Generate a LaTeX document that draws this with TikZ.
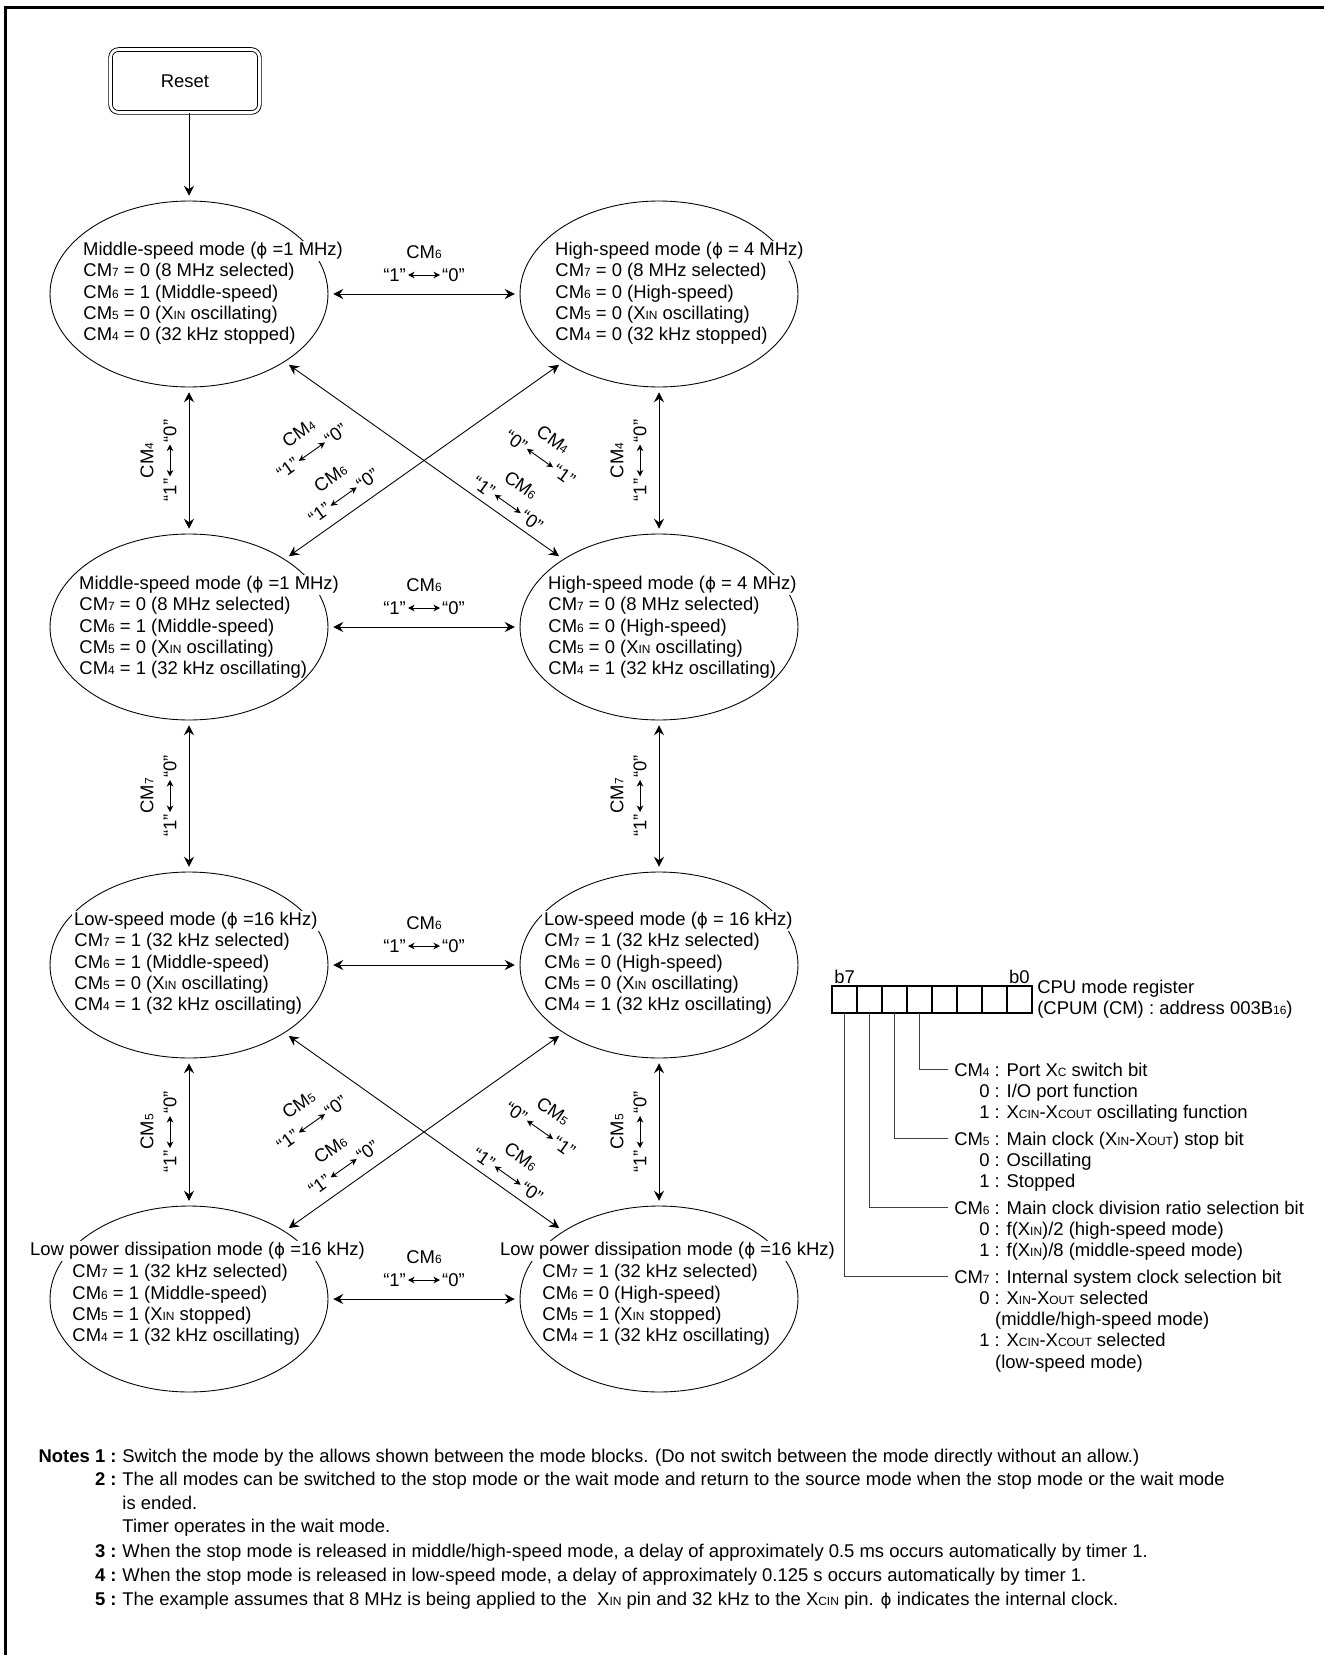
\documentclass[tikz,border=0pt]{standalone}
\usepackage{fontspec}
\setmainfont{Liberation Sans}
\newfontfamily\phifont{DejaVu Sans}
\usetikzlibrary{
positioning,
arrows.meta,
shapes.geometric,
calc
}
\newcommand\lowtxt[1]{{\fontsize{6.8}{8}\selectfont #1}}
\newcommand\phisym{{\phifont\fontsize{9.5}{12}\selectfont ϕ}}
\tikzset{
modeell/.style={
draw,
ellipse,
minimum width=5.56cm,
minimum height=3.72cm,
outer sep=3pt
},
modehead/.style={
anchor=west,
fill=white,
inner sep=1pt
},
modebody/.style={
anchor=west,
align=left,
inner sep=0pt
},
resetbox/.style={
draw,
double,
double distance=0.055cm,
rounded corners=0.16cm,
minimum width=2.98cm,
minimum height=1.26cm
},
arrow/.style={
-{Stealth[length=2mm,width=2mm,inset=0.7mm]}
},
twoway/.style={
{Stealth[length=2mm,width=2mm,inset=0.7mm]}-{Stealth[length=2mm,width=2mm,inset=0.7mm]}
},
smallway/.style={
{Stealth[length=1.3mm,width=1.3mm,inset=0.4mm]}-{Stealth[length=1.3mm,width=1.3mm,inset=0.4mm]}
},
cmlab/.style={inner sep=1pt},
qlab/.style={inner sep=1pt},
pics/swlab/.style n args={4}{code={
\node[cmlab] (-cm) at (0,#4) {CM\lowtxt{#1}};
\node[qlab, anchor=east] (-a) at (-16,{#4+23}) {“#2”};
\node[qlab, anchor=west] (-b) at (16,{#4+23}) {“#3”};
\draw[smallway] (-a) -- (-b);
}},
cell/.style={
draw,
line width=0.6pt,
minimum width=0.5cm,
minimum height=0.54cm,
inner sep=0pt,
outer sep=0pt
},
lead/.style={draw=black!75},
regtxt/.style={anchor=base west, inner sep=3.3pt},
notetxt/.style={anchor=base west, inner sep=0pt, font=\fontsize{10.5}{12}\selectfont},
notenum/.style={anchor=base east, inner sep=0pt, font=\fontsize{10.5}{12}\selectfont\bfseries}
}

\begin{document}
\begin{tikzpicture}[x=0.02cm, y=-0.02cm, line width=0.5pt, font=\fontsize{10.5}{12.1}\selectfont]
\useasboundingbox (0,0) rectangle (1324,1655);

% frame
\draw[line width=1.7pt] (5.5,1655) -- (5.5,7.5) -- (1324,7.5);

\node[resetbox] (reset) at (185,81) {Reset};

% mode blocks
\node[modeell] (midA) at (189,294) {};
\node[modeell] (highA) at (659,294) {};
\node[modeell] (midB) at (189,627) {};
\node[modeell] (highB) at (659,627) {};
\node[modeell] (lowM) at (189,965) {};
\node[modeell] (lowH) at (659,965) {};
\node[modeell] (lpM) at (189,1299) {};
\node[modeell] (lpH) at (659,1299) {};

\node[modehead] (midAh) at (81,251) {Middle-speed mode (\phisym\ =1 MHz)};
\node[modebody] (midAb) at (83,304) {CM\lowtxt{7} = 0 (8 MHz selected)\\CM\lowtxt{6} = 1 (Middle-speed)\\CM\lowtxt{5} = 0 (X\lowtxt{IN} oscillating)\\CM\lowtxt{4} = 0 (32 kHz stopped)};
\node[modehead] (highAh) at (553,251) {High-speed mode (\phisym\ = 4 MHz)};
\node[modebody] (highAb) at (555,304) {CM\lowtxt{7} = 0 (8 MHz selected)\\CM\lowtxt{6} = 0 (High-speed)\\CM\lowtxt{5} = 0 (X\lowtxt{IN} oscillating)\\CM\lowtxt{4} = 0 (32 kHz stopped)};
\node[modehead] (midBh) at (77,585) {Middle-speed mode (\phisym\ =1 MHz)};
\node[modebody] (midBb) at (79,638) {CM\lowtxt{7} = 0 (8 MHz selected)\\CM\lowtxt{6} = 1 (Middle-speed)\\CM\lowtxt{5} = 0 (X\lowtxt{IN} oscillating)\\CM\lowtxt{4} = 1 (32 kHz oscillating)};
\node[modehead] (highBh) at (546,585) {High-speed mode (\phisym\ = 4 MHz)};
\node[modebody] (highBb) at (548,638) {CM\lowtxt{7} = 0 (8 MHz selected)\\CM\lowtxt{6} = 0 (High-speed)\\CM\lowtxt{5} = 0 (X\lowtxt{IN} oscillating)\\CM\lowtxt{4} = 1 (32 kHz oscillating)};
\node[modehead] (lowMh) at (72,921) {Low-speed mode (\phisym\ =16 kHz)};
\node[modebody] (lowMb) at (74,974) {CM\lowtxt{7} = 1 (32 kHz selected)\\CM\lowtxt{6} = 1 (Middle-speed)\\CM\lowtxt{5} = 0 (X\lowtxt{IN} oscillating)\\CM\lowtxt{4} = 1 (32 kHz oscillating)};
\node[modehead] (lowHh) at (542,921) {Low-speed mode (\phisym\ = 16 kHz)};
\node[modebody] (lowHb) at (544,974) {CM\lowtxt{7} = 1 (32 kHz selected)\\CM\lowtxt{6} = 0 (High-speed)\\CM\lowtxt{5} = 0 (X\lowtxt{IN} oscillating)\\CM\lowtxt{4} = 1 (32 kHz oscillating)};
\node[modehead] (lpMh) at (28,1251) {Low power dissipation mode (\phisym\ =16 kHz)};
\node[modebody] (lpMb) at (72,1305) {CM\lowtxt{7} = 1 (32 kHz selected)\\CM\lowtxt{6} = 1 (Middle-speed)\\CM\lowtxt{5} = 1 (X\lowtxt{IN} stopped)\\CM\lowtxt{4} = 1 (32 kHz oscillating)};
\node[modehead] (lpHh) at (498,1251) {Low power dissipation mode (\phisym\ =16 kHz)};
\node[modebody] (lpHb) at (542,1305) {CM\lowtxt{7} = 1 (32 kHz selected)\\CM\lowtxt{6} = 0 (High-speed)\\CM\lowtxt{5} = 1 (X\lowtxt{IN} stopped)\\CM\lowtxt{4} = 1 (32 kHz oscillating)};

% transitions
\draw[arrow] (reset.south -| midA) -- (midA);
\draw[twoway] (midA) -- (highA);
\draw[twoway] (midB) -- (highB);
\draw[twoway] (lowM) -- (lowH);
\draw[twoway] (lpM) -- (lpH);
\draw[twoway] (midA) -- (midB);
\draw[twoway] (highA) -- (highB);
\draw[twoway] (midB) -- (lowM);
\draw[twoway] (highB) -- (lowH);
\draw[twoway] (lowM) -- (lpM);
\draw[twoway] (lowH) -- (lpH);
\draw[twoway] (midA) -- (highB);
\draw[twoway] (highA) -- (midB);
\draw[twoway] (lowM) -- (lpH);
\draw[twoway] (lowH) -- (lpM);

% switch labels
\pic (swA) at ($(midA)!0.5!(highA)$) {swlab={6}{1}{0}{-42}};
\pic (swB) at ($(midB)!0.5!(highB)$) {swlab={6}{1}{0}{-42}};
\pic (swC) at ($(lowM)!0.5!(lowH)$) {swlab={6}{1}{0}{-42}};
\pic (swD) at ($(lpM)!0.5!(lpH)$) {swlab={6}{1}{0}{-42}};
\pic[rotate=90, transform shape] (svA) at ($(midA)!0.5!(midB)$) {swlab={4}{1}{0}{-42}};
\pic[rotate=90, transform shape] (svB) at ($(highA)!0.5!(highB)$) {swlab={4}{1}{0}{-42}};
\pic[rotate=90, transform shape] (svC) at ($(midB)!0.5!(lowM)$) {swlab={7}{1}{0}{-42}};
\pic[rotate=90, transform shape] (svD) at ($(highB)!0.5!(lowH)$) {swlab={7}{1}{0}{-42}};
\pic[rotate=90, transform shape] (svE) at ($(lowM)!0.5!(lpM)$) {swlab={5}{1}{0}{-42}};
\pic[rotate=90, transform shape] (svF) at ($(lowH)!0.5!(lpH)$) {swlab={5}{1}{0}{-42}};
\pic[rotate=35.3, transform shape] (sdA) at ($(midB)!0.35!(highA)$) {swlab={4}{1}{0}{-95}};
\pic[rotate=35.3, transform shape] (sdB) at ($(midB)!0.35!(highA)$) {swlab={6}{1}{0}{-40}};
\pic[rotate=-35.3, transform shape] (sdC) at ($(midA)!0.662!(highB)$) {swlab={4}{0}{1}{-92}};
\pic[rotate=-35.3, transform shape] (sdD) at ($(midA)!0.662!(highB)$) {swlab={6}{1}{0}{-36}};
\pic[rotate=35.3, transform shape] (sdE) at ($(lpM)!0.35!(lowH)$) {swlab={5}{1}{0}{-95}};
\pic[rotate=35.3, transform shape] (sdF) at ($(lpM)!0.35!(lowH)$) {swlab={6}{1}{0}{-40}};
\pic[rotate=-35.3, transform shape] (sdG) at ($(lowM)!0.662!(lpH)$) {swlab={5}{0}{1}{-92}};
\pic[rotate=-35.3, transform shape] (sdH) at ($(lowM)!0.662!(lpH)$) {swlab={6}{1}{0}{-36}};

% CPU mode register
\node[cell] (b7) at (844.5,999.5) {};
\node[cell, right=0pt of b7] (b6) {};
\node[cell, right=0pt of b6] (b5) {};
\node[cell, right=0pt of b5] (b4) {};
\node[cell, right=0pt of b4] (b3) {};
\node[cell, right=0pt of b3] (b2) {};
\node[cell, right=0pt of b2] (b1) {};
\node[cell, right=0pt of b1] (b0) {};
\node[above=0pt of b7, inner sep=1pt] (b7lab) {b7};
\node[above=0pt of b0, inner sep=1pt] (b0lab) {b0};
\node[right=0pt of b0, align=left, inner sep=2.8pt] (cpum) {CPU mode register\\(CPUM (CM) : address 003B\lowtxt{16})};

\node[regtxt] (bit4) at (948,1076) {\begin{tabular}[t]{@{}r@{}l@{}}
CM\lowtxt{4} & \ : Port X\lowtxt{C} switch bit\\
0 & \ : I/O port function\\
1 & \ : X\lowtxt{CIN}-X\lowtxt{COUT} oscillating function
\end{tabular}};
\node[regtxt] (bit5) at (948,1145) {\begin{tabular}[t]{@{}r@{}l@{}}
CM\lowtxt{5} & \ : Main clock (X\lowtxt{IN}-X\lowtxt{OUT}) stop bit\\
0 & \ : Oscillating\\
1 & \ : Stopped
\end{tabular}};
\node[regtxt] (bit6) at (948,1214) {\begin{tabular}[t]{@{}r@{}l@{}}
CM\lowtxt{6} & \ : Main clock division ratio selection bit\\
0 & \ : f(X\lowtxt{IN})/2 (high-speed mode)\\
1 & \ : f(X\lowtxt{IN})/8 (middle-speed mode)
\end{tabular}};
\node[regtxt] (bit7) at (948,1283) {\begin{tabular}[t]{@{}r@{}l@{}}
CM\lowtxt{7} & \ : Internal system clock selection bit\\
0 & \ : X\lowtxt{IN}-X\lowtxt{OUT} selected\\
 & \hspace{0.3em}(middle/high-speed mode)\\
1 & \ : X\lowtxt{CIN}-X\lowtxt{COUT} selected\\
 & \hspace{0.3em}(low-speed mode)
\end{tabular}};

\draw[lead] (b4.south) |- ([yshift=3.8pt]bit4.base west);
\draw[lead] (b5.south) |- ([yshift=3.8pt]bit5.base west);
\draw[lead] (b6.south) |- ([yshift=3.8pt]bit6.base west);
\draw[lead] (b7.south) |- ([yshift=3.8pt]bit7.base west);

% notes
\node[notenum] (n1) at (117,1462) {Notes 1 :};
\node[notetxt] (n1t) at (122,1462) {Switch the mode by the allows shown between the mode blocks. (Do not switch between the mode directly without an allow.)};
\node[notenum] (n2) at (117,1485) {2 :};
\node[notetxt] (n2t) at (122,1485) {The all modes can be switched to the stop mode or the wait mode and return to the source mode when the stop mode or the wait mode};
\node[notetxt] (n2u) at (122,1509) {is ended.};
\node[notetxt] (n2v) at (122,1532) {Timer operates in the wait mode.};
\node[notenum] (n3) at (117,1557) {3 :};
\node[notetxt] (n3t) at (122,1557) {When the stop mode is released in middle/high-speed mode, a delay of approximately 0.5 ms occurs automatically by timer 1.};
\node[notenum] (n4) at (117,1581) {4 :};
\node[notetxt] (n4t) at (122,1581) {When the stop mode is released in low-speed mode, a delay of approximately 0.125 s occurs automatically by timer 1.};
\node[notenum] (n5) at (117,1605) {5 :};
\node[notetxt] (n5t) at (122,1605) {The example assumes that 8 MHz is being applied to the \ X\lowtxt{IN} pin and 32 kHz to the X\lowtxt{CIN} pin. \phisym\ indicates the internal clock.};

\end{tikzpicture}
\end{document}
